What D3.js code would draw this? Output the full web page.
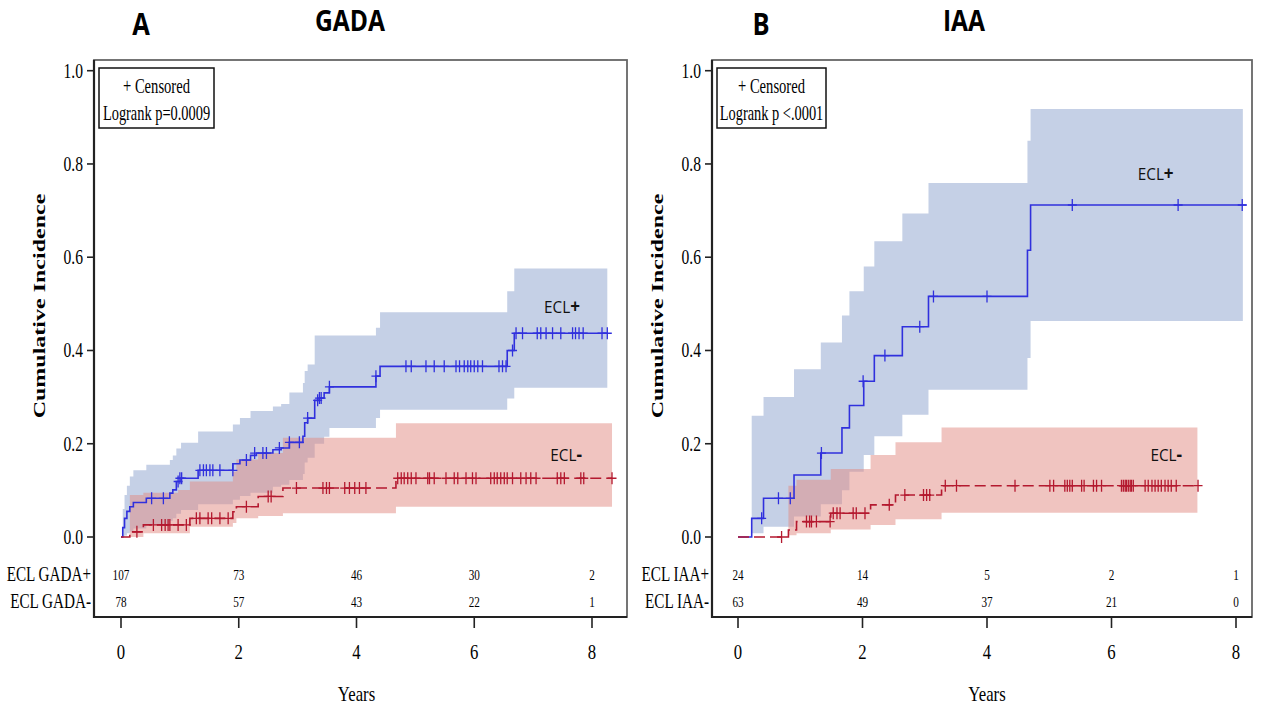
<!DOCTYPE html>
<html><head><meta charset="utf-8">
<script src="https://cdn.jsdelivr.net/npm/d3@7"></script>
<style>body{margin:0;background:#fff}</style>
</head><body>
<svg id="chart" width="1262" height="708"></svg>
<script>
// ---------------- DATA ----------------
const xTickValues = [0, 2, 4, 6, 8];
const yTickValues = [0, 0.2, 0.4, 0.6, 0.8, 1.0];
const panelLetters = ["A", "B"];
const panelTitles = ["GADA", "IAA"];
const logrankTexts = ["Logrank p=0.0009", "Logrank p <.0001"];
const groupLabels = ["ECL+", "ECL-"];
const riskRowLabelsA = ["ECL GADA+", "ECL GADA-"];
const riskRowLabelsB = ["ECL IAA+", "ECL IAA-"];
const riskTimes = [0, 2, 4, 6, 8];
const riskGadaPos = [107, 73, 46, 30, 2];
const riskGadaNeg = [78, 57, 43, 22, 1];
const riskIaaPos = [24, 14, 5, 2, 1];
const riskIaaNeg = [63, 49, 37, 21, 0];

// Panel A, ECL+ (step curve: [years, cumulative incidence])
const gadaPosCurve = [[0,0],[0.03,0.02],[0.06,0.04],[0.1,0.055],[0.15,0.065],[0.21,0.074],[0.43,0.083],[0.83,0.094],[0.88,0.101],[0.94,0.119],[1.02,0.126],[1.31,0.143],[1.90,0.157],[2.02,0.165],[2.20,0.175],[2.30,0.18],[2.58,0.187],[2.72,0.191],[2.86,0.203],[3.09,0.216],[3.12,0.245],[3.17,0.255],[3.29,0.293],[3.37,0.298],[3.45,0.309],[3.54,0.322],[4.33,0.345],[4.40,0.366],[6.56,0.40],[6.68,0.437],[8.26,0.437]];
// band: [years, lower, upper]
const gadaPosBand = [[0,0,0],[0.03,0,0.06],[0.06,0.003,0.09],[0.1,0.008,0.11],[0.15,0.012,0.13],[0.21,0.018,0.143],[0.43,0.025,0.155],[0.83,0.035,0.165],[0.88,0.04,0.175],[0.94,0.05,0.19],[1.02,0.058,0.202],[1.31,0.07,0.226],[1.90,0.08,0.241],[2.02,0.088,0.255],[2.20,0.095,0.27],[2.58,0.108,0.28],[2.72,0.112,0.285],[2.86,0.122,0.31],[3.09,0.135,0.33],[3.12,0.16,0.356],[3.17,0.17,0.37],[3.29,0.2,0.432],[3.45,0.215,0.432],[3.54,0.234,0.432],[4.33,0.255,0.449],[4.40,0.273,0.482],[6.56,0.297,0.527],[6.68,0.32,0.576],[8.26,0.32,0.576]];
const gadaPosCensor = [[0.52,0.083],[0.72,0.083],[0.97,0.119],[1.0,0.126],[1.03,0.126],[1.34,0.143],[1.40,0.143],[1.45,0.143],[1.51,0.143],[1.56,0.143],[1.68,0.143],[1.90,0.143],[2.13,0.165],[2.27,0.18],[2.41,0.18],[2.47,0.18],[2.69,0.191],[2.86,0.203],[3.03,0.203],[3.17,0.255],[3.34,0.293],[3.37,0.298],[3.40,0.298],[3.54,0.322],[4.33,0.345],[4.84,0.366],[4.93,0.366],[5.18,0.366],[5.32,0.366],[5.49,0.366],[5.69,0.366],[5.75,0.366],[5.83,0.366],[5.89,0.366],[5.94,0.366],[6.0,0.366],[6.06,0.366],[6.14,0.366],[6.42,0.366],[6.48,0.366],[6.54,0.366],[6.65,0.40],[6.71,0.437],[6.82,0.437],[7.07,0.437],[7.13,0.437],[7.22,0.437],[7.33,0.437],[7.47,0.437],[7.67,0.437],[7.72,0.437],[7.78,0.437],[7.85,0.437],[8.17,0.437],[8.26,0.437]];

// Panel A, ECL-
const gadaNegCurve = [[0,0],[0.15,0.011],[0.38,0.026],[1.17,0.04],[1.90,0.054],[1.96,0.065],[2.33,0.087],[2.75,0.105],[4.67,0.126],[8.34,0.126]];
const gadaNegBand = [[0,0,0],[0.15,0,0.09],[0.38,0.008,0.095],[0.97,0.008,0.101],[1.17,0.022,0.119],[1.90,0.03,0.14],[1.96,0.04,0.166],[2.33,0.045,0.18],[2.75,0.051,0.213],[4.67,0.065,0.244],[8.34,0.065,0.244]];
const gadaNegCensor = [[0.27,0.011],[0.55,0.026],[0.69,0.026],[0.75,0.026],[0.80,0.026],[0.83,0.026],[0.97,0.026],[1.11,0.026],[1.28,0.04],[1.34,0.04],[1.48,0.04],[1.54,0.04],[1.68,0.04],[1.82,0.04],[2.13,0.065],[2.50,0.087],[2.55,0.087],[2.98,0.105],[3.43,0.105],[3.49,0.105],[3.54,0.105],[3.80,0.105],[3.88,0.105],[3.97,0.105],[4.05,0.105],[4.16,0.105],[4.70,0.126],[4.76,0.126],[4.81,0.126],[4.87,0.126],[4.93,0.126],[5.01,0.126],[5.21,0.126],[5.24,0.126],[5.32,0.126],[5.52,0.126],[5.66,0.126],[5.72,0.126],[5.86,0.126],[5.97,0.126],[6.03,0.126],[6.28,0.126],[6.34,0.126],[6.39,0.126],[6.45,0.126],[6.51,0.126],[6.56,0.126],[6.65,0.126],[6.79,0.126],[6.88,0.126],[6.96,0.126],[7.05,0.126],[7.41,0.126],[7.47,0.126],[7.53,0.126],[7.81,0.126],[7.86,0.126],[8.34,0.126]];

// Panel B, ECL+
const iaaPosCurve = [[0,0],[0.22,0.04],[0.41,0.083],[0.90,0.133],[1.33,0.18],[1.67,0.234],[1.79,0.282],[2.02,0.334],[2.19,0.389],[2.64,0.451],[3.06,0.516],[4.65,0.615],[4.70,0.712],[8.17,0.712]];
const iaaPosBand = [[0,0,0],[0.22,0.008,0.26],[0.41,0.022,0.30],[0.90,0.044,0.36],[1.33,0.07,0.417],[1.67,0.1,0.475],[1.79,0.14,0.527],[2.02,0.176,0.58],[2.19,0.216,0.634],[2.64,0.262,0.694],[3.06,0.316,0.759],[4.65,0.384,0.85],[4.70,0.463,0.918],[8.11,0.463,0.918]];
const iaaPosCensor = [[0.38,0.04],[0.65,0.083],[0.84,0.083],[1.34,0.18],[2.01,0.334],[2.36,0.389],[2.92,0.451],[3.14,0.516],[4.0,0.516],[5.37,0.712],[7.07,0.712],[8.10,0.712]];

// Panel B, ECL-
const iaaNegCurve = [[0,0],[0.81,0.015],[0.94,0.033],[1.49,0.051],[2.13,0.069],[2.53,0.09],[3.27,0.11],[7.39,0.11]];
const iaaNegBand = [[0,0,0],[0.81,0.004,0.11],[0.94,0.008,0.123],[1.49,0.016,0.146],[2.13,0.026,0.176],[2.53,0.038,0.203],[3.27,0.052,0.235],[7.38,0.052,0.235]];
const iaaNegCensor = [[0.70,0],[1.10,0.033],[1.15,0.033],[1.18,0.033],[1.26,0.033],[1.48,0.033],[1.53,0.051],[1.59,0.051],[1.64,0.051],[1.85,0.051],[1.90,0.051],[2.04,0.051],[2.43,0.069],[2.68,0.09],[2.98,0.09],[3.03,0.09],[3.08,0.09],[3.33,0.11],[3.51,0.11],[4.45,0.11],[5.01,0.11],[5.07,0.11],[5.25,0.11],[5.29,0.11],[5.33,0.11],[5.37,0.11],[5.52,0.11],[5.56,0.11],[5.71,0.11],[5.76,0.11],[5.84,0.11],[6.16,0.11],[6.19,0.11],[6.22,0.11],[6.24,0.11],[6.27,0.11],[6.30,0.11],[6.32,0.11],[6.35,0.11],[6.54,0.11],[6.59,0.11],[6.65,0.11],[6.70,0.11],[6.75,0.11],[6.80,0.11],[6.86,0.11],[6.91,0.11],[6.96,0.11],[7.04,0.11],[7.39,0.11]];

// label anchor points in data coords [years, incidence]
const labelPosA = [[7.49, 0.48], [7.56, 0.163]];
const labelPosB = [[6.71, 0.766], [6.88, 0.163]];

// ---------------- DRAW ----------------
const svg = d3.select("#chart");
const SERIF = "'Liberation Serif','Times New Roman',serif";
const SANS = "'Open Sans','Noto Sans',sans-serif";
const SX = 0.76; // horizontal compression of the original figure
const blueLine = "#3030dd", redLine = "#b4192f";
const blueBand = "#c5d0e6", redBand = "rgb(225,137,129)";

function txt(g, x, y, s, o = {}) {
  const sx = o.sx ?? SX;
  const rot = o.rotate ? ` rotate(${o.rotate})` : "";
  return g.append("text")
    .attr("transform", `translate(${x},${y}) scale(${sx},1)${rot}`)
    .attr("text-anchor", o.anchor || "middle")
    .attr("font-family", o.family || SERIF)
    .attr("font-size", o.size || 20)
    .attr("font-weight", o.weight || "normal")
    .attr("fill", o.fill || "#000")
    .text(s);
}

function panel(cfg) {
  const g = svg.append("g");
  const x = d3.scaleLinear().domain([0, 8]).range([cfg.x0, cfg.x8]);
  const y = d3.scaleLinear().domain([0, 1]).range([537, 70.7]);

  // bands
  const area = d3.area().curve(d3.curveStepAfter)
    .x(d => x(d[0])).y0(d => y(d[1])).y1(d => y(d[2]));
  g.append("path").datum(cfg.posBand).attr("d", area).attr("fill", blueBand);
  g.append("path").datum(cfg.negBand).attr("d", area).attr("fill", redBand).attr("fill-opacity", 0.5);

  // lines
  const line = d3.line().curve(d3.curveStepAfter).x(d => x(d[0])).y(d => y(d[1]));
  g.append("path").datum(cfg.posCurve).attr("d", line).attr("fill", "none")
    .attr("stroke", blueLine).attr("stroke-width", 1.6);
  g.append("path").datum(cfg.negCurve).attr("d", line).attr("fill", "none")
    .attr("stroke", redLine).attr("stroke-width", 1.6).attr("stroke-dasharray", "11,5");

  // censor marks
  const plus = (sel, data, col) => sel.selectAll(null).data(data).enter().append("path")
    .attr("d", d => `M${x(d[0]) - 4.5},${y(d[1])}h9M${x(d[0])},${y(d[1]) - 6}v12`)
    .attr("stroke", col).attr("stroke-width", 1.3).attr("fill", "none");
  plus(g, cfg.posCensor, blueLine);
  plus(g, cfg.negCensor, redLine);

  // frame
  g.append("rect").attr("x", cfg.left).attr("y", 60).attr("width", cfg.right - cfg.left)
    .attr("height", 617 - 60).attr("fill", "none").attr("stroke", "#666").attr("stroke-width", 1.8);
  g.append("path").attr("d", `M${cfg.left},60V617H${cfg.right}`).attr("fill", "none")
    .attr("stroke", "#222").attr("stroke-width", 2.2);

  // y axis ticks + labels
  yTickValues.forEach(v => {
    g.append("line").attr("x1", cfg.left - 7).attr("x2", cfg.left).attr("y1", y(v)).attr("y2", y(v))
      .attr("stroke", "#222").attr("stroke-width", 1.6);
    txt(g, cfg.left - 11, y(v) + 7, d3.format(".1f")(v), { anchor: "end", size: 20.5 });
  });
  // x axis ticks + labels
  xTickValues.forEach(v => {
    g.append("line").attr("x1", x(v)).attr("x2", x(v)).attr("y1", 617).attr("y2", 628)
      .attr("stroke", "#222").attr("stroke-width", 1.6);
    txt(g, x(v), 659, String(v), { size: 22 });
  });
  txt(g, (cfg.x0 + cfg.x8) / 2, 701, "Years", { size: 22 });
  txt(g, cfg.yTitleX, 306, "Cumulative Incidence", { size: 24, weight: "bold", rotate: -90, sx: 0.74 });

  // legend box
  g.append("rect").attr("x", cfg.left + 5).attr("y", 68).attr("width", cfg.legW).attr("height", 60)
    .attr("fill", "#fff").attr("stroke", "#111").attr("stroke-width", 1.5);
  txt(g, cfg.left + 5 + cfg.legW / 2, 93, "+ Censored", { size: 20, sx: 0.73 });
  txt(g, cfg.left + 5 + cfg.legW / 2, 120, cfg.logrank, { size: 20, sx: 0.72 });

  // group labels
  cfg.labelPos.forEach((p, i) => {
    const t = g.append("text")
      .attr("transform", `translate(${x(p[0])},${y(p[1])}) scale(0.9,1)`)
      .attr("text-anchor", "middle").attr("font-family", SANS).attr("font-size", 17).attr("fill", "#111");
    t.append("tspan").text(groupLabels[i].slice(0, 3));
    t.append("tspan").attr("font-weight", "bold").attr("font-size", 19).text(groupLabels[i].slice(3));
  });

  // at-risk table
  [cfg.riskPos, cfg.riskNeg].forEach((row, r) => {
    const yy = 580 + r * 27;
    txt(g, cfg.left - 3, yy + 1, cfg.riskLabels[r], { anchor: "end", size: 20 });
    row.forEach((n, i) => txt(g, x(riskTimes[i]), yy - 0.5, String(n), { size: 14, sx: 0.8 }));
  });

  // titles
  txt(svg, cfg.letterX, 35, cfg.letter, { family: SANS, weight: "bold", size: 30, sx: 0.85 });
  txt(svg, cfg.titleX, 31, cfg.title, { family: SANS, weight: "bold", size: 28, sx: 0.88 });
}

panel({
  left: 94, right: 627, x0: 121, x8: 592, yTitleX: 45, legW: 115,
  posBand: gadaPosBand, negBand: gadaNegBand, posCurve: gadaPosCurve, negCurve: gadaNegCurve,
  posCensor: gadaPosCensor, negCensor: gadaNegCensor, logrank: logrankTexts[0],
  labelPos: labelPosA, riskPos: riskGadaPos, riskNeg: riskGadaNeg, riskLabels: riskRowLabelsA,
  letter: panelLetters[0], letterX: 141, title: panelTitles[0], titleX: 350
});
panel({
  left: 712, right: 1252, x0: 738, x8: 1236, yTitleX: 663, legW: 109,
  posBand: iaaPosBand, negBand: iaaNegBand, posCurve: iaaPosCurve, negCurve: iaaNegCurve,
  posCensor: iaaPosCensor, negCensor: iaaNegCensor, logrank: logrankTexts[1],
  labelPos: labelPosB, riskPos: riskIaaPos, riskNeg: riskIaaNeg, riskLabels: riskRowLabelsB,
  letter: panelLetters[1], letterX: 761, title: panelTitles[1], titleX: 964
});
</script>
</body></html>
